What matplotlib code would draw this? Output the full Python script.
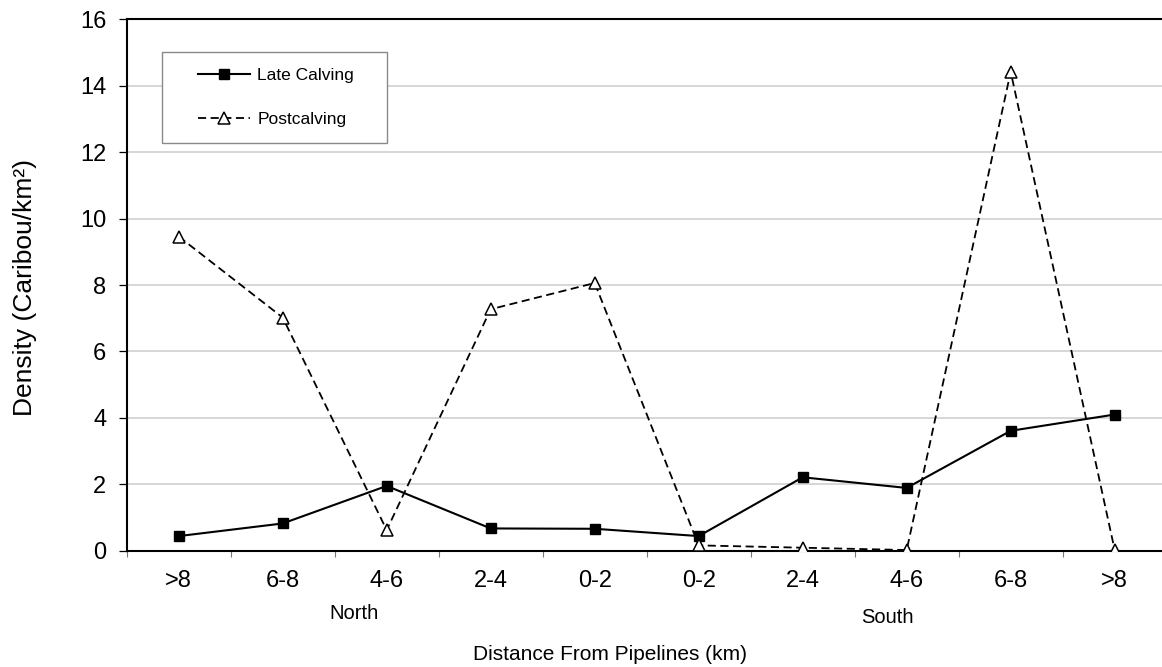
import matplotlib

matplotlib.use("Agg")
import matplotlib.pyplot as plt
from matplotlib.patches import Rectangle
from matplotlib.ticker import FixedLocator

plt.rcParams["font.family"] = ["Liberation Sans", "DejaVu Sans"]

# distance classes, north side then south side of the pipelines
categories = [">8", "6-8", "4-6", "2-4", "0-2", "0-2", "2-4", "4-6", "6-8", ">8"]
late_calving = [0.44, 0.82, 1.95, 0.67, 0.66, 0.44, 2.21, 1.89, 3.61, 4.10]
postcalving = [9.46, 7.02, 0.62, 7.27, 8.06, 0.16, 0.09, 0.02, 14.42, 0.02]
sides = ["North", "South"]

W, H = 1162, 667
fig = plt.figure(figsize=(W / 100, H / 100), dpi=100)
ax = fig.add_axes([126.7 / W, 1 - 550.7 / H, 1040 / W, 531.4 / H])

x = list(range(len(categories)))
ax.plot(x, late_calving, color="black", lw=1.5, marker="s", ms=7.8,
        mfc="black", mec="black", label="Late Calving", zorder=3)
ax.plot(x, postcalving, color="black", lw=1.3, ls=(0, (4.5, 2.5)), marker="^",
        ms=8, mfc="white", mec="black", mew=1.1, label="Postcalving", zorder=4)

ax.set_xlim(-0.5, 9.5)
ax.set_ylim(0, 16)
ax.set_yticks(range(0, 17, 2))
ax.yaxis.grid(True, color="#cccccc", lw=1.1)
ax.set_axisbelow(True)

ax.set_xticks(x)
ax.set_xticklabels(categories, fontsize=17)
ax.xaxis.set_minor_locator(FixedLocator([i - 0.5 for i in range(len(categories) + 1)]))
ax.tick_params(axis="x", which="major", length=0, pad=14)
ax.tick_params(axis="x", which="minor", length=4.5, width=0.8, color="#777777")
ax.tick_params(axis="y", length=5.8, width=0.9, labelsize=17, pad=9)

for s in ["left", "bottom", "top"]:
    ax.spines[s].set_linewidth(1.5)
ax.spines["right"].set_visible(False)

# North / South group labels under the distance classes
ax.text(1.69, -1.88, sides[0], fontsize=14.5, ha="center", va="center")
ax.text(6.81, -2.0, sides[1], fontsize=14.5, ha="center", va="center")

fig.text(610 / W, 1 - 654 / H, "Distance From Pipelines (km)", fontsize=15,
         ha="center", va="center")
fig.text(25 / W, 1 - 288 / H, "Density (Caribou/km²)", fontsize=19,
         ha="center", va="center", rotation=90)

# legend box drawn separately so its size matches the original
ax.add_patch(Rectangle((162 / W, 1 - 143 / H), 225 / W, 91 / H,
                       transform=fig.transFigure, fill=True, fc="white",
                       ec="#8a8a8a", lw=1.0, zorder=5, clip_on=False))
leg = ax.legend(loc="upper left", bbox_to_anchor=(186 / W, 1 - 56 / H),
                bbox_transform=fig.transFigure, frameon=False, fontsize=12.5,
                handlelength=3.0, handletextpad=0.4, labelspacing=1.62,
                borderpad=0.2)
leg.set_zorder(6)

fig.savefig("out.png", dpi=100)
